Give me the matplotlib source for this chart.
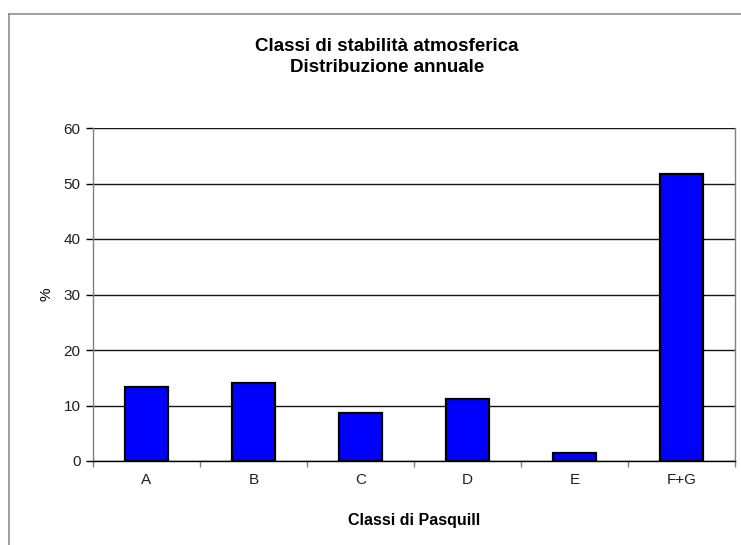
import matplotlib
matplotlib.use("Agg")
import matplotlib.pyplot as plt
from matplotlib.lines import Line2D

plt.rcParams['font.family'] = ['Liberation Sans', 'DejaVu Sans']

# data
classes = ['A', 'B', 'C', 'D', 'E', 'F+G']
percent = [13.4, 14.0, 8.6, 11.2, 1.5, 51.7]
y_ticks = [0, 10, 20, 30, 40, 50, 60]

fig = plt.figure(figsize=(7.41, 5.45), dpi=100)
ax = fig.add_axes([93 / 741, 1 - 461 / 545, (735 - 93) / 741, (461 - 128) / 545])

x = range(len(classes))
ax.bar(x, percent, width=0.41, color='#0000ff', edgecolor='black', linewidth=1.6, zorder=3)

ax.set_xlim(-0.5, len(classes) - 0.5)
ax.set_ylim(0, 60)
ax.set_yticks(y_ticks)
ax.yaxis.grid(True, color='#151515', linewidth=1.0, zorder=0)
ax.set_axisbelow(True)

# category labels centred, tick marks on the boundaries
ax.set_xticks([i - 0.5 for i in range(len(classes) + 1)])
ax.set_xticklabels([])
ax.set_xticks(list(x), minor=True)
ax.set_xticklabels(classes, minor=True)
ax.tick_params(axis='x', which='major', length=4, width=1, color='#808080', direction='out')
ax.tick_params(axis='x', which='minor', length=0, pad=9, labelsize=11, labelcolor='#202020')
ax.tick_params(axis='y', length=5, width=1, color='black', pad=4, labelsize=11, labelcolor='#202020')

for s in ['left', 'right']:
    ax.spines[s].set_color('#808080')
    ax.spines[s].set_linewidth(1.0)
ax.spines['top'].set_visible(False)
ax.spines['bottom'].set_color('black')
ax.spines['bottom'].set_linewidth(1.0)

ax.set_xlabel('Classi di Pasquill', fontsize=11.5, fontweight='bold', labelpad=18)
ax.set_ylabel('%', fontsize=11, labelpad=7)

fig.text(387 / 741, 1 - 57 / 545, 'Classi di stabilità atmosferica\nDistribuzione annuale',
         ha='center', va='center', fontsize=13.5, fontweight='bold', linespacing=1.3)

# chart frame (partly cropped in the reference)
fig.add_artist(Line2D([9 / 741, 9 / 741], [0, 1 - 14 / 545], transform=fig.transFigure,
                      color='#909090', linewidth=1.2))
fig.add_artist(Line2D([9 / 741, 1], [1 - 14 / 545, 1 - 14 / 545], transform=fig.transFigure,
                      color='#909090', linewidth=1.2))

fig.savefig('out.png', dpi=100)
